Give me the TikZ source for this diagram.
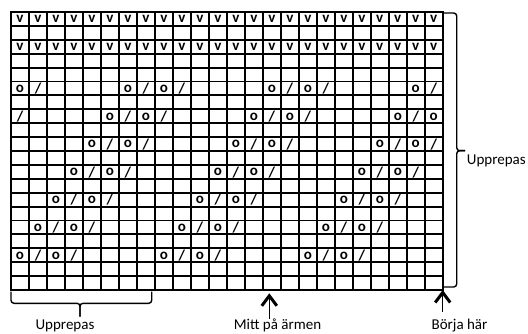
\documentclass[tikz,border=0pt]{standalone}
\usepackage{fontspec}
\setmainfont{Carlito}
\usetikzlibrary{arrows.meta}

\begin{document}
\begin{tikzpicture}[x=1pt, y=-1pt,
    gridline/.style={line width=1.9pt, line cap=rect},
    stitch/.style={font=\bfseries\fontsize{15}{15}\selectfont, inner sep=0pt},
    chartlabel/.style={font=\fontsize{15}{16}\selectfont, inner sep=0pt},
    bracket/.style={line width=1.4pt, rounded corners=3pt},
    pointer/.style={line width=1.3pt, -{Straight Barb[length=10pt, width=15pt, line width=3pt]}}]

  \useasboundingbox (0, 0) rectangle (528, 334);

  % Chart: 24 stitches x 20 rows, cell 17.99 x 13.9
  \foreach \c in {0, ..., 24}{
    \draw[gridline] (11 + 17.99*\c, 12) -- (11 + 17.99*\c, 290);
  }
  \foreach \r in {0, ..., 20}{
    \draw[gridline] (11, 12 + 13.9*\r) -- (442.7, 12 + 13.9*\r);
  }

  % Rows 1 and 3: v in every stitch
  \foreach \r in {1, 3}{
    \foreach \c in {1, ..., 24}{
      \node[stitch] (v-\r-\c) at (11 + 17.99*\c - 9, 12 + 13.9*\r - 6.7) {v};
    }
  }

  % Lace rows: o / o / every 8 stitches, moving one stitch left every 2nd row
  \foreach \r/\s in {6/7, 8/6, 10/5, 12/4, 14/3, 16/2, 18/1}{
    \foreach \c in {1, ..., 24}{
      \pgfmathtruncatemacro{\k}{mod(\c - \s + 16, 8)}
      \ifnum\k<4
        \node[stitch] (l-\r-\c) at (11 + 17.99*\c - 9, 12 + 13.9*\r - 6.7)
          {\ifodd\k /\else o\fi};
      \fi
    }
  }

  % Repeat braces
  \draw[bracket] (442.7, 13) -- (456.7, 13) -- (456.7, 150.7) -- (465, 150.7);
  \draw[bracket] (465, 150.7) -- (456.7, 150.7) -- (456.7, 287) -- (444, 287);
  \node[chartlabel, anchor=base west] (rep-right) at (466.7, 164.3) {Upprepas};

  \draw[bracket] (11, 291.5) -- (11, 303.3) -- (80, 303.3) -- (80, 316.7);
  \draw[bracket] (151.7, 291.5) -- (151.7, 303.3) -- (80, 303.3) -- (80, 316.7);
  \node[chartlabel, anchor=base] (rep-bottom) at (65, 329.5) {Upprepas};

  % Start and middle markers
  \coordinate (mid) at (269.3, 293.3);
  \coordinate (start) at (442.7, 290);
  \node[chartlabel, anchor=base] (mitt) at (277.5, 329.5) {Mitt på ärmen};
  \node[chartlabel, anchor=base] (borja) at (459.5, 329.5) {Börja här};
  \draw[pointer] (mitt.north -| mid) -- (mid);
  \draw[pointer] (borja.north -| start) ++(0, -7) -- (start);

\end{tikzpicture}
\end{document}
